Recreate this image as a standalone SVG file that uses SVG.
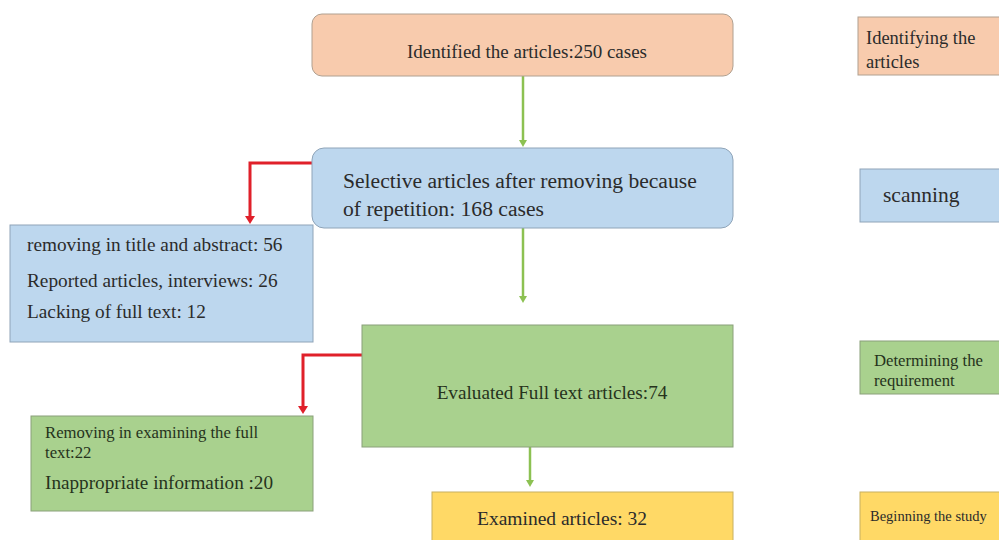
<svg xmlns="http://www.w3.org/2000/svg" width="999" height="540" viewBox="0 0 999 540">
<defs>
<style>
text{font-family:"Liberation Serif","Tinos","DejaVu Serif",serif;fill:#2b2b2b}
.gt{fill:#26331c}
.peach{fill:#f8cbad;stroke:#b0a090;stroke-width:1}
.blue{fill:#bdd7ee;stroke:#8fa4b8;stroke-width:1}
.green{fill:#a9d18e;stroke:#8aa07a;stroke-width:1}
.yellow{fill:#ffd966;stroke:#c8b060;stroke-width:1}
.gl{stroke:#8cc152;stroke-width:2.5;fill:none}
.rl{stroke:#e0202a;stroke-width:3;fill:none}
.gh{fill:#8cc152}
.rh{fill:#e0202a}
</style>
</defs>
<rect width="999" height="540" fill="#ffffff"/>
<g id="connectors">
<line class="gl" x1="523" y1="76" x2="523" y2="142"/>
<path class="gh" d="M519,140 h8 l-4,7z"/>
<line class="gl" x1="523" y1="228" x2="523" y2="298"/>
<path class="gh" d="M519,296 h8 l-4,7z"/>
<line class="gl" x1="530" y1="447" x2="530" y2="482"/>
<path class="gh" d="M526,480 h8 l-4,7z"/>
<polyline class="rl" points="312,163 250,163 250,218"/>
<path class="rh" d="M245,216 h10 l-5,8z"/>
<polyline class="rl" points="362,355 303,355 303,408"/>
<path class="rh" d="M298,406 h10 l-5,8z"/>
</g>
<g id="n-identified">
<rect class="peach" x="312" y="14" width="421" height="62" rx="10"/>
<text x="527" y="58" font-size="19" text-anchor="middle">Identified the articles:250 cases</text>
</g>
<g id="n-selective">
<rect class="blue" x="312" y="148" width="421" height="80" rx="12"/>
<text x="343" y="188" font-size="21.6">Selective articles after removing because</text>
<text x="343" y="216" font-size="21.6">of repetition: 168 cases</text>
</g>
<g id="n-removing1">
<rect class="blue" x="10" y="225" width="303" height="117"/>
<text x="27" y="251" font-size="19.3">removing in title and abstract: 56</text>
<text x="27" y="287" font-size="19.3">Reported articles, interviews: 26</text>
<text x="27" y="318" font-size="19.3">Lacking of full text: 12</text>
</g>
<g id="n-evaluated">
<rect class="green" x="362" y="325" width="371" height="122"/>
<text class="gt" x="552" y="399" font-size="19.2" text-anchor="middle">Evaluated Full text articles:74</text>
</g>
<g id="n-removing2">
<rect class="green" x="31" y="416" width="282" height="95"/>
<text class="gt" x="45" y="438" font-size="16.7">Removing in examining the full</text>
<text class="gt" x="45" y="458" font-size="16.7">text:22</text>
<text class="gt" x="45" y="489" font-size="19.2">Inappropriate information :20</text>
</g>
<g id="n-examined">
<rect class="yellow" x="432" y="492" width="301" height="60"/>
<text x="562" y="525" font-size="19.5" text-anchor="middle">Examined articles: 32</text>
</g>
<g id="s-identifying">
<rect class="peach" x="858" y="17" width="150" height="58"/>
<text x="866" y="44" font-size="18.5">Identifying the</text>
<text x="866" y="68" font-size="18.5">articles</text>
</g>
<g id="s-scanning">
<rect class="blue" x="860" y="169" width="150" height="53"/>
<text x="883" y="202" font-size="21.5">scanning</text>
</g>
<g id="s-determining">
<rect class="green" x="860" y="341" width="150" height="53"/>
<text class="gt" x="874" y="366" font-size="16.7">Determining the</text>
<text class="gt" x="874" y="386" font-size="16.7">requirement</text>
</g>
<g id="s-beginning">
<rect class="yellow" x="860" y="492" width="150" height="60"/>
<text x="870" y="521" font-size="14.5">Beginning the study</text>
</g>
</svg>
